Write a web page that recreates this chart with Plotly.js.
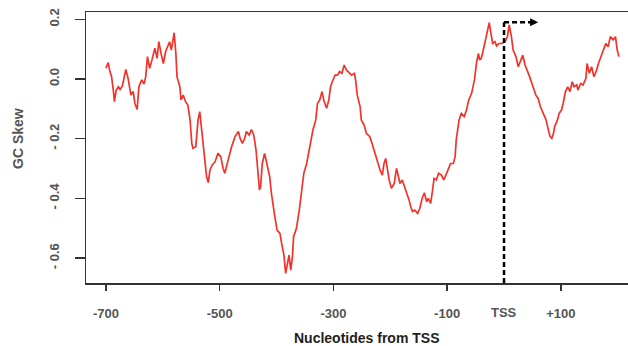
<!DOCTYPE html>
<html>
<head>
<meta charset="utf-8">
<script src="https://cdn.plot.ly/plotly-3.0.1.min.js"></script>
<style>html,body{margin:0;padding:0;background:#fff;overflow:hidden}#chart{width:628px;height:346px}</style>
</head>
<body>
<div id="chart"></div>
<script>
// Nucleotide position relative to TSS
const positions = [-700,-696,-693,-690,-687,-685,-682,-678,-675,-671,-665,-661,-656,-652,-649,-645,-642,-637,-633,-630,-627,-623,-619,-614,-610,-607,-603,-599,-595,-592,-588,-585,-580,-577,-575,-570,-568,-564,-560,-556,-552,-549,-547,-542,-538,-535,-532,-529,-526,-523,-520,-517,-513,-508,-503,-498,-494,
-491,-485,-479,-473,-467,-464,-460,-456,-453,-448,-444,-440,-436,-433,-430,-428,-425,-421,-416,-412,-409,-406,-403,-399,-394,-391,-387,-384,-381,-378,-375,-372,-370,-365,-360,-356,-352,-347,-344,-340,-336,-331,-328,-324,-320,-317,-312,-308,-305,-302,-297,-293,-289,-285,-281,-277,-272,
-268,-263,-261,-258,-253,-251,-246,-242,-236,-232,-227,-222,-218,-214,-211,-208,-205,-202,-198,-193,-189,-186,-183,-179,-176,-171,-167,-164,-161,-157,-152,-148,-144,-140,-136,-133,-129,-126,-123,-119,-115,-110,-106,-101,-98,-94,-89,-86,-84,-79,-75,-70,-66,-62,-57,-52,
-48,-45,-43,-40,-37,-34,-31,-26,-23,-20,-16,-13,-9,-4,2,6,9,13,16,21,25,29,33,37,41,45,51,56,60,64,69,74,78,81,84,87,89,94,97,101,104,108,112,116,120,123,128,130,135,139,144,146,150,154,158,162,166,170,174,179,183,187,192,196,199,202];

// GC skew values
const gcSkew = [0.036,0.055,0.025,0.008,-0.037,-0.076,-0.037,-0.026,-0.035,-0.023,0.032,0.002,-0.054,-0.042,-0.082,-0.102,-0.026,-0.003,-0.017,0.008,0.075,0.036,0.064,0.103,0.069,0.125,0.086,0.052,0.092,0.108,0.125,0.097,0.155,0.086,0.008,-0.026,-0.070,-0.054,-0.076,-0.087,-0.137,-0.216,-0.232,-0.227,-0.137,-0.109,-0.160,-0.216,-0.283,-0.327,-0.347,-0.305,-0.288,-0.277,-0.249,-0.260,-0.299,
-0.316,-0.271,-0.227,-0.193,-0.176,-0.199,-0.216,-0.199,-0.176,-0.188,-0.169,-0.188,-0.238,-0.305,-0.372,-0.361,-0.283,-0.249,-0.294,-0.327,-0.383,-0.428,-0.461,-0.506,-0.517,-0.551,-0.590,-0.651,-0.618,-0.590,-0.640,-0.595,-0.528,-0.500,-0.439,-0.383,-0.316,-0.283,-0.249,-0.216,-0.171,-0.137,-0.082,-0.070,-0.042,-0.070,-0.098,-0.070,-0.026,-0.009,0.013,0.013,0.025,0.019,0.047,0.030,0.019,
0.013,0.019,-0.003,-0.054,-0.093,-0.137,-0.154,-0.182,-0.193,-0.216,-0.249,-0.283,-0.305,-0.322,-0.283,-0.266,-0.305,-0.338,-0.366,-0.350,-0.299,-0.327,-0.350,-0.338,-0.355,-0.377,-0.405,-0.428,-0.444,-0.439,-0.450,-0.433,-0.400,-0.381,-0.411,-0.400,-0.417,-0.377,-0.333,-0.338,-0.316,-0.322,-0.338,-0.316,-0.299,-0.283,-0.283,-0.260,-0.204,-0.137,-0.115,-0.126,-0.104,-0.070,-0.048,-0.003,
0.058,0.086,0.064,0.069,0.092,0.119,0.153,0.189,0.153,0.119,0.125,0.111,0.119,0.119,0.125,0.142,0.181,0.142,0.097,0.075,0.041,0.058,0.080,0.047,0.030,0.008,-0.026,-0.054,-0.065,-0.093,-0.115,-0.137,-0.171,-0.193,-0.199,-0.182,-0.160,-0.137,-0.115,-0.104,-0.082,-0.042,-0.026,-0.042,-0.009,-0.026,-0.020,-0.037,-0.015,-0.020,0.002,0.052,0.019,0.041,0.008,0.025,0.052,0.075,0.097,0.119,0.108,0.142,0.131,0.142,0.097,0.075];

const xTickVals = [-700,-500,-300,-100,100];
const xTickText = ['-700','-500','-300','-100','+100'];
const yTickVals = [0.2,0,-0.2,-0.4,-0.6];
const yTickText = ['0.2','0.0','- 0.2','- 0.4','- 0.6'];
const tssPos = 0;
const tssLabel = 'TSS';
const arrowTop = 0.19;
const arrowEnd = 60;

const X_RANGE = [-735, 218];
const Y_RANGE = [-0.6834, 0.2245];
const FONT = 'Liberation Sans, Arial, sans-serif';
const TXT = '#555555';

const trace = {
  x: positions, y: gcSkew, type: 'scatter', mode: 'lines',
  line: {color: '#f2332b', width: 1.7}, hoverinfo: 'skip'
};

const layout = {
  width: 628, height: 346,
  margin: {l: 86, r: 0, t: 12, b: 63},
  paper_bgcolor: '#ffffff', plot_bgcolor: '#ffffff',
  showlegend: false,
  font: {family: FONT, color: TXT, size: 13, weight: 'bold'},
  xaxis: {
    range: X_RANGE, tickvals: xTickVals, ticktext: xTickText,
    ticks: 'outside', ticklen: 6, tickwidth: 1.5, tickcolor: '#333',
    showline: true, linecolor: '#333', linewidth: 1.5, mirror: true,
    showgrid: false, zeroline: false,
    tickfont: {family: FONT, size: 13, color: TXT, weight: 'bold'},
    ticklabelstandoff: 12
  },
  yaxis: {
    range: Y_RANGE, tickvals: yTickVals, ticktext: yTickText,
    ticks: 'outside', ticklen: 10, tickwidth: 1.5, tickcolor: '#333',
    showline: true, linecolor: '#333', linewidth: 1.5, mirror: false,
    showgrid: false, zeroline: false, tickangle: -90,
    tickfont: {family: FONT, size: 13, color: TXT, weight: 'bold'},
    ticklabelstandoff: 10
  },
  shapes: [
    {type: 'line', xref: 'x', yref: 'y', x0: tssPos, x1: tssPos, y0: Y_RANGE[0], y1: arrowTop,
     line: {color: '#000', width: 2.5, dash: '5px,3px'}},
    {type: 'line', xref: 'x', yref: 'y', x0: tssPos, x1: arrowEnd - 8, y0: arrowTop, y1: arrowTop,
     line: {color: '#000', width: 2.5, dash: '5px,3px'}}
  ],
  annotations: [
    {xref: 'x', yref: 'y', x: arrowEnd, y: arrowTop, ax: -6, ay: 0, axref: 'pixel', ayref: 'pixel',
     text: '', showarrow: true, arrowhead: 2, arrowsize: 0.8, arrowwidth: 2, arrowcolor: '#000'},
    {xref: 'x', yref: 'paper', x: tssPos, y: 0, yshift: -29, yanchor: 'middle', showarrow: false,
     text: tssLabel, font: {family: FONT, size: 13, color: TXT, weight: 'bold'}},
    {xref: 'paper', yref: 'paper', x: 0.518, y: -0.203, xanchor: 'center', yanchor: 'middle', showarrow: false,
     text: 'Nucleotides from TSS', font: {family: FONT, size: 14, color: '#222', weight: 'bold'}},
    {xref: 'paper', yref: 'paper', x: -0.1255, y: 0.535, xanchor: 'center', yanchor: 'middle', showarrow: false,
     textangle: -90, text: 'GC Skew', font: {family: FONT, size: 14, color: TXT, weight: 'bold'}}
  ]
};

Plotly.newPlot('chart', [trace], layout, {staticPlot: true, displayModeBar: false});
</script>
</body>
</html>
